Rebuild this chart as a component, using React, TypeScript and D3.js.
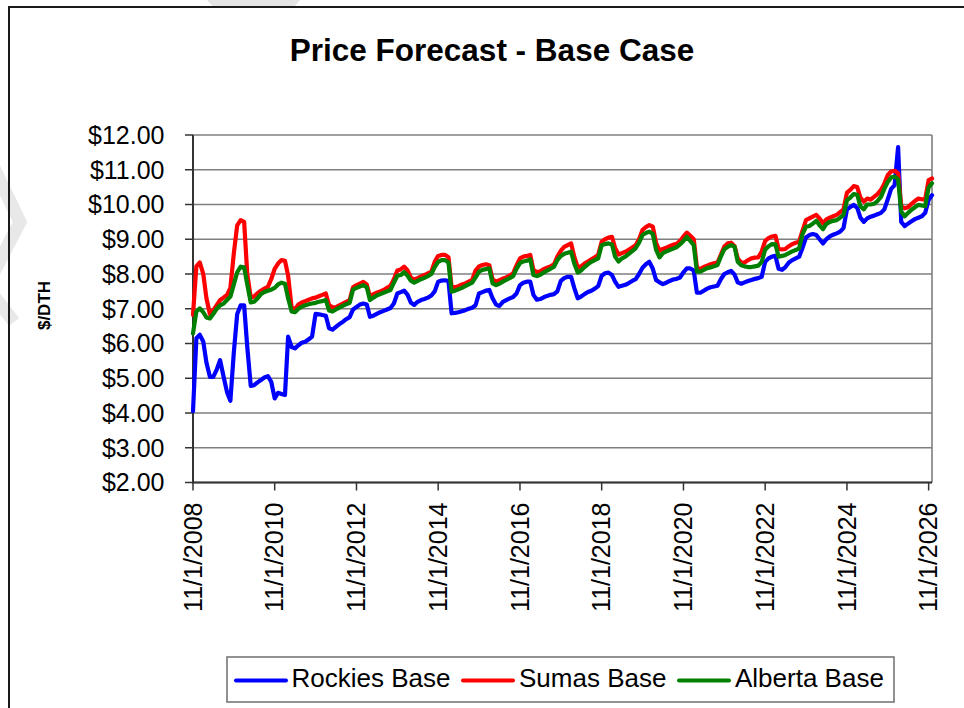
import React from "react";
import * as d3 from "d3";

// Monthly forecast prices ($/DTH), first value is November 2008.
// Each row covers one Nov–Oct gas year.
const rockiesBase: number[] = [
  4.05, 6.15, 6.25, 6.05, 5.45, 5.04, 5.04, 5.25, 5.52, 5.05, 4.6, 4.35,
  5.75, 6.85, 7.1, 7.1, 5.9, 4.78, 4.8, 4.88, 4.95, 5.02, 5.06, 4.9,
  4.42, 4.58, 4.55, 4.52, 6.2, 5.9, 5.86, 5.95, 6.02, 6.05, 6.12, 6.2,
  6.85, 6.84, 6.82, 6.8, 6.44, 6.4, 6.48, 6.56, 6.62, 6.7, 6.76, 6.98,
  7.05, 7.12, 7.15, 7.12, 6.77, 6.8, 6.85, 6.9, 6.94, 6.98, 7.02, 7.15,
  7.44, 7.48, 7.52, 7.4, 7.18, 7.11, 7.2, 7.25, 7.28, 7.32, 7.38, 7.5,
  7.78, 7.81, 7.82, 7.8, 6.87, 6.88, 6.9, 6.93, 6.96, 7.0, 7.03, 7.1,
  7.44, 7.48, 7.52, 7.54, 7.3, 7.12, 7.08, 7.2, 7.25, 7.3, 7.34, 7.44,
  7.68, 7.75, 7.78, 7.78, 7.4, 7.26, 7.28, 7.33, 7.37, 7.4, 7.42, 7.5,
  7.8, 7.88, 7.92, 7.92, 7.6, 7.3, 7.35, 7.42, 7.48, 7.52, 7.58, 7.65,
  7.95, 8.02, 8.04, 7.97, 7.78, 7.63, 7.66, 7.69, 7.74, 7.8, 7.85, 8.0,
  8.18, 8.28, 8.35, 8.15, 7.83, 7.76, 7.71, 7.75, 7.8, 7.84, 7.86, 7.9,
  8.05, 8.16, 8.16, 8.1, 7.46, 7.46, 7.52, 7.58, 7.62, 7.64, 7.66, 7.85,
  8.0, 8.05, 8.09, 7.98, 7.76, 7.72, 7.76, 7.8, 7.83, 7.86, 7.88, 7.92,
  8.35, 8.45, 8.5, 8.52, 8.15, 8.12, 8.2, 8.33, 8.4, 8.45, 8.5, 8.75,
  9.05, 9.12, 9.15, 9.12, 9.0, 8.88, 9.0, 9.08, 9.13, 9.17, 9.22, 9.32,
  9.86, 9.93, 9.99, 9.9, 9.62, 9.5, 9.6, 9.65, 9.68, 9.72, 9.76, 9.86,
  10.15, 10.45, 10.56, 11.65, 9.5, 9.38, 9.45, 9.52, 9.58, 9.62, 9.66, 9.76,
  10.13, 10.27,
];

const sumasBase: number[] = [
  6.82, 8.22, 8.33, 8.0, 7.3, 6.85, 6.95, 7.1, 7.25, 7.32, 7.4, 7.6,
  8.6, 9.4, 9.55, 9.5, 8.0, 7.32, 7.35, 7.45, 7.52, 7.58, 7.63, 7.85,
  8.15, 8.3, 8.4, 8.38, 7.95, 7.04, 6.98, 7.12, 7.18, 7.22, 7.26, 7.3,
  7.32, 7.36, 7.4, 7.44, 7.1, 7.05, 7.04, 7.1, 7.15, 7.2, 7.25, 7.62,
  7.68, 7.72, 7.77, 7.7, 7.35, 7.42, 7.46, 7.5, 7.54, 7.6, 7.66, 7.85,
  8.1, 8.13, 8.21, 8.1, 7.9, 7.84, 7.88, 7.93, 7.97, 8.02, 8.07, 8.35,
  8.52, 8.55, 8.55, 8.48, 7.62, 7.62, 7.65, 7.7, 7.73, 7.78, 7.83, 8.1,
  8.22, 8.26, 8.28, 8.25, 7.85, 7.78, 7.82, 7.87, 7.9, 7.95, 8.02, 8.25,
  8.45, 8.5, 8.52, 8.55, 8.12, 8.05, 8.08, 8.14, 8.18, 8.22, 8.28, 8.5,
  8.67, 8.78, 8.83, 8.88, 8.5, 8.19, 8.22, 8.3, 8.36, 8.42, 8.48, 8.55,
  8.93, 9.0, 9.05, 9.07, 8.75, 8.56, 8.6, 8.64, 8.7, 8.76, 8.83, 9.0,
  9.27, 9.35, 9.41, 9.36, 8.9, 8.67, 8.72, 8.76, 8.8, 8.84, 8.87, 8.95,
  9.08, 9.19, 9.1, 9.0, 8.19, 8.14, 8.2, 8.24, 8.28, 8.31, 8.33, 8.55,
  8.79, 8.88, 8.9, 8.8, 8.45, 8.33, 8.33, 8.4, 8.45, 8.47, 8.48, 8.65,
  8.95, 9.03, 9.08, 9.1, 8.72, 8.71, 8.72, 8.8, 8.86, 8.9, 8.93, 9.25,
  9.55, 9.6, 9.65, 9.7, 9.6, 9.46, 9.57, 9.62, 9.66, 9.7, 9.78, 9.86,
  10.34, 10.42, 10.53, 10.5, 10.2, 10.08, 10.17, 10.14, 10.22, 10.3, 10.42, 10.6,
  10.85, 10.95, 10.97, 10.9, 9.95, 9.89, 9.92, 10.02, 10.1, 10.17, 10.15, 10.15,
  10.7, 10.75,
];

const albertaBase: number[] = [
  6.29, 6.92, 7.01, 6.9, 6.75, 6.72, 6.85, 7.0, 7.1, 7.15, 7.25, 7.35,
  7.7, 8.05, 8.21, 8.19, 7.7, 7.18, 7.2, 7.3, 7.42, 7.48, 7.52, 7.55,
  7.6, 7.7, 7.75, 7.72, 7.3, 6.92, 6.9, 7.0, 7.06, 7.1, 7.13, 7.15,
  7.17, 7.2, 7.22, 7.25, 6.95, 6.92, 6.98, 7.03, 7.08, 7.13, 7.17, 7.55,
  7.6, 7.64, 7.68, 7.62, 7.25, 7.32, 7.38, 7.42, 7.46, 7.5, 7.54, 7.75,
  7.95, 7.97, 8.05, 7.95, 7.81, 7.75, 7.8, 7.85, 7.89, 7.94, 8.0, 8.2,
  8.35, 8.4, 8.4, 8.33, 7.49, 7.52, 7.56, 7.6, 7.65, 7.7, 7.75, 7.9,
  8.07, 8.12, 8.14, 8.16, 7.73, 7.68, 7.72, 7.78, 7.83, 7.88, 7.94, 8.15,
  8.31, 8.36, 8.38, 8.42, 7.97, 7.94, 7.98, 8.04, 8.1, 8.15, 8.21, 8.4,
  8.52, 8.58, 8.61, 8.64, 8.3, 8.04, 8.1, 8.2, 8.28, 8.35, 8.4, 8.45,
  8.83, 8.86, 8.88, 8.85, 8.5, 8.36, 8.45, 8.5, 8.58, 8.66, 8.74, 8.9,
  9.12, 9.18, 9.22, 9.15, 8.7, 8.48, 8.6, 8.65, 8.69, 8.73, 8.77, 8.85,
  8.95, 9.07, 8.95, 8.83, 8.07, 8.07, 8.12, 8.17, 8.19, 8.22, 8.26, 8.5,
  8.71, 8.78, 8.83, 8.78, 8.35, 8.25, 8.22, 8.2, 8.2, 8.22, 8.24, 8.35,
  8.7, 8.8, 8.86, 8.85, 8.5, 8.52, 8.55, 8.6, 8.65, 8.69, 8.74, 9.15,
  9.36, 9.38, 9.45, 9.53, 9.4, 9.29, 9.44, 9.5, 9.53, 9.55, 9.62, 9.7,
  10.12, 10.2, 10.3, 10.28, 9.95, 9.86, 10.0, 10.0, 10.02, 10.1, 10.22, 10.45,
  10.65, 10.78, 10.8, 10.72, 9.8, 9.66, 9.76, 9.85, 9.92, 9.99, 9.97, 9.95,
  10.49, 10.61,
];

const seriesNames = ["Rockies Base", "Sumas Base", "Alberta Base"];
const seriesColors = ["#0000FF", "#FF0000", "#008000"];
const priceTicks = [2, 3, 4, 5, 6, 7, 8, 9, 10, 11, 12];
const tickYears = [2008, 2010, 2012, 2014, 2016, 2018, 2020, 2022, 2024, 2026];

const FONT = "'Liberation Sans', Arial, Helvetica, sans-serif";

const firstMonth = new Date(2008, 10, 1);
const months = rockiesBase.map((_, i) => d3.timeMonth.offset(firstMonth, i));

export default function App() {
  const W = 964;
  const H = 708;
  const plot = { left: 193, right: 932, top: 135, bottom: 482.5 };

  const x = d3
    .scaleTime()
    .domain([firstMonth, months[months.length - 1]])
    .range([plot.left, plot.right]);
  const y = d3.scaleLinear().domain([2, 12]).range([plot.bottom, plot.top]);

  const line = d3
    .line<number>()
    .x((_, i) => x(months[i]))
    .y((d) => y(d));

  const series = [rockiesBase, sumasBase, albertaBase];
  const fmt = d3.format("$.2f");

  const legendItems = [
    { sx: 236, tx: 291.5 },
    { sx: 463, tx: 519 },
    { sx: 679, tx: 735 },
  ];

  return (
    <svg
      width={W}
      height={H}
      viewBox={`0 0 ${W} ${H}`}
      style={{ position: "absolute", left: 0, top: 0, background: "#fff" }}
      fontFamily={FONT}
    >
      {/* faint background marks */}
      <path d="M207,0 L300,0 L294,7 L213,7 Z" fill="#e4e4e4" />
      <path
        d="M-6,168 L20,222 L-6,272 M-6,296 L14,322"
        fill="none"
        stroke="#e8e8e8"
        strokeWidth={13}
      />

      {/* chart frame */}
      <rect x={9} y={7} width={980} height={720} fill="none" stroke="#1a1a1a" strokeWidth={2} />

      {/* title */}
      <text x={492} y={61} textAnchor="middle" fontSize={31.5} fontWeight="bold" fill="#000">
        Price Forecast - Base Case
      </text>

      {/* horizontal gridlines */}
      {priceTicks.map((t) => (
        <line
          key={`g${t}`}
          x1={plot.left}
          x2={plot.right}
          y1={y(t)}
          y2={y(t)}
          stroke="#7f7f7f"
          strokeWidth={1.3}
        />
      ))}
      {/* plot area border (right) */}
      <line x1={plot.right} x2={plot.right} y1={plot.top} y2={plot.bottom} stroke="#7f7f7f" strokeWidth={1.6} />

      {/* y axis */}
      <line x1={plot.left} x2={plot.left} y1={plot.top} y2={plot.bottom + 1} stroke="#333" strokeWidth={2} />
      {priceTicks.map((t) => (
        <g key={`yt${t}`}>
          <line x1={plot.left - 8} x2={plot.left} y1={y(t)} y2={y(t)} stroke="#333" strokeWidth={1.5} />
          <text x={164.5} y={y(t)} dy="0.35em" textAnchor="end" fontSize={25} fill="#000">
            {fmt(t)}
          </text>
        </g>
      ))}
      <text
        transform={`translate(50,305.5) rotate(-90)`}
        textAnchor="middle"
        fontSize={17}
        fontWeight="bold"
        fill="#000"
      >
        $/DTH
      </text>

      {/* x axis */}
      <line x1={plot.left} x2={plot.right} y1={plot.bottom} y2={plot.bottom} stroke="#333" strokeWidth={2} />
      {tickYears.map((yr) => {
        const d = new Date(yr, 10, 1);
        const px = x(d);
        return (
          <g key={`xt${yr}`}>
            <line x1={px} x2={px} y1={plot.bottom} y2={plot.bottom + 8} stroke="#333" strokeWidth={1.5} />
            <text
              transform={`translate(${px},${plot.bottom + 20}) rotate(-90)`}
              dy="0.35em"
              textAnchor="end"
              fontSize={25}
              fill="#000"
            >
              {d3.timeFormat("%-m/%-d/%Y")(d)}
            </text>
          </g>
        );
      })}

      {/* series */}
      {series.map((s, i) => (
        <path
          key={seriesNames[i]}
          d={line(s) ?? ""}
          fill="none"
          stroke={seriesColors[i]}
          strokeWidth={4.2}
          strokeLinejoin="round"
          strokeLinecap="round"
        />
      ))}

      {/* legend */}
      <rect x={227} y={657} width={667} height={45} fill="#fff" stroke="#777" strokeWidth={1.6} />
      {seriesNames.map((name, i) => (
        <g key={`lg${name}`}>
          <line
            x1={legendItems[i].sx}
            x2={legendItems[i].sx + 50}
            y1={680.5}
            y2={680.5}
            stroke={seriesColors[i]}
            strokeWidth={4}
            strokeLinecap="round"
          />
          <text x={legendItems[i].tx} y={686.5} fontSize={26} fill="#000">
            {name}
          </text>
        </g>
      ))}
    </svg>
  );
}
